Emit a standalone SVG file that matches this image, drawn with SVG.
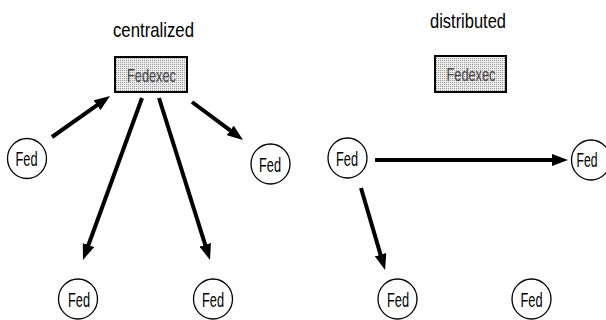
<svg xmlns="http://www.w3.org/2000/svg" width="606" height="320" viewBox="0 0 606 320">
<style>
.fed{fill:#fff;stroke:#000;stroke-width:1.3}
.ft{font-family:"Liberation Sans",Arial,sans-serif;font-size:21px;fill:#000;text-anchor:middle}
.title{font-family:"Liberation Sans",Arial,sans-serif;font-size:21px;fill:#000;text-anchor:middle}
.box{fill:url(#dots);stroke:#000;stroke-width:2}
.bt{font-family:"Liberation Sans",Arial,sans-serif;font-size:19px;fill:#444;text-anchor:middle}
.arr{stroke:#000;stroke-width:4;fill:none;marker-end:url(#ah)}
</style>
<defs>
<pattern id="dots" width="2" height="2" patternUnits="userSpaceOnUse">
<rect width="2" height="2" fill="#ececec"/>
<rect width="1" height="1" fill="#999"/>
</pattern>
<marker id="ah" viewBox="0 0 4 3" refX="2" refY="1.5" markerWidth="4" markerHeight="3" markerUnits="strokeWidth" orient="auto">
<path d="M0,0 L4,1.5 L0,3 z" fill="#000"/>
</marker>
</defs>
<text class="title" x="153.5" y="37" textLength="81" lengthAdjust="spacingAndGlyphs">centralized</text>
<text class="title" x="468" y="28" textLength="76" lengthAdjust="spacingAndGlyphs">distributed</text>
<g id="connectors">
<line class="arr" x1="52" y1="137" x2="103.5" y2="100.6"/>
<line class="arr" x1="142" y1="98" x2="85.7" y2="252.5"/>
<line class="arr" x1="159" y1="98" x2="207.6" y2="252.4"/>
<line class="arr" x1="192" y1="102" x2="236.6" y2="135.2"/>
<line class="arr" x1="375" y1="160" x2="560" y2="160"/>
<line class="arr" x1="361" y1="188" x2="382.8" y2="262.3"/>
</g>
<g id="fedexec-central">
<rect class="box" x="115" y="57" width="72" height="35"/>
<text class="bt" x="151.5" y="81.5" textLength="49" lengthAdjust="spacingAndGlyphs">Fedexec</text>
</g>
<g id="fedexec-distributed">
<rect class="box" x="435" y="56" width="71" height="36"/>
<text class="bt" x="471" y="80.5" textLength="49" lengthAdjust="spacingAndGlyphs">Fedexec</text>
</g>
<g id="fed-c-left">
<ellipse class="fed" cx="27" cy="158.5" rx="19.5" ry="20"/>
<text class="ft" x="26.5" y="166" textLength="22" lengthAdjust="spacingAndGlyphs">Fed</text>
</g>
<g id="fed-c-right">
<ellipse class="fed" cx="270.5" cy="164" rx="19.5" ry="20"/>
<text class="ft" x="270" y="171.5" textLength="22" lengthAdjust="spacingAndGlyphs">Fed</text>
</g>
<g id="fed-c-bottom-left">
<ellipse class="fed" cx="78" cy="299" rx="19.5" ry="20"/>
<text class="ft" x="79" y="306.5" textLength="22" lengthAdjust="spacingAndGlyphs">Fed</text>
</g>
<g id="fed-c-bottom-right">
<ellipse class="fed" cx="213" cy="299" rx="19.5" ry="20"/>
<text class="ft" x="213" y="306.5" textLength="22" lengthAdjust="spacingAndGlyphs">Fed</text>
</g>
<g id="fed-d-left">
<ellipse class="fed" cx="347.5" cy="158" rx="19.5" ry="20"/>
<text class="ft" x="347" y="165.5" textLength="22" lengthAdjust="spacingAndGlyphs">Fed</text>
</g>
<g id="fed-d-right">
<ellipse class="fed" cx="591" cy="160" rx="19.5" ry="20"/>
<text class="ft" x="587" y="167" style="font-size:20px" textLength="21" lengthAdjust="spacingAndGlyphs">Fed</text>
</g>
<g id="fed-d-bottom-left">
<ellipse class="fed" cx="397.5" cy="299" rx="19.5" ry="20"/>
<text class="ft" x="398" y="306.5" textLength="22" lengthAdjust="spacingAndGlyphs">Fed</text>
</g>
<g id="fed-d-bottom-right">
<ellipse class="fed" cx="531.5" cy="299" rx="19.5" ry="20"/>
<text class="ft" x="531.5" y="306.5" textLength="22" lengthAdjust="spacingAndGlyphs">Fed</text>
</g>
</svg>
